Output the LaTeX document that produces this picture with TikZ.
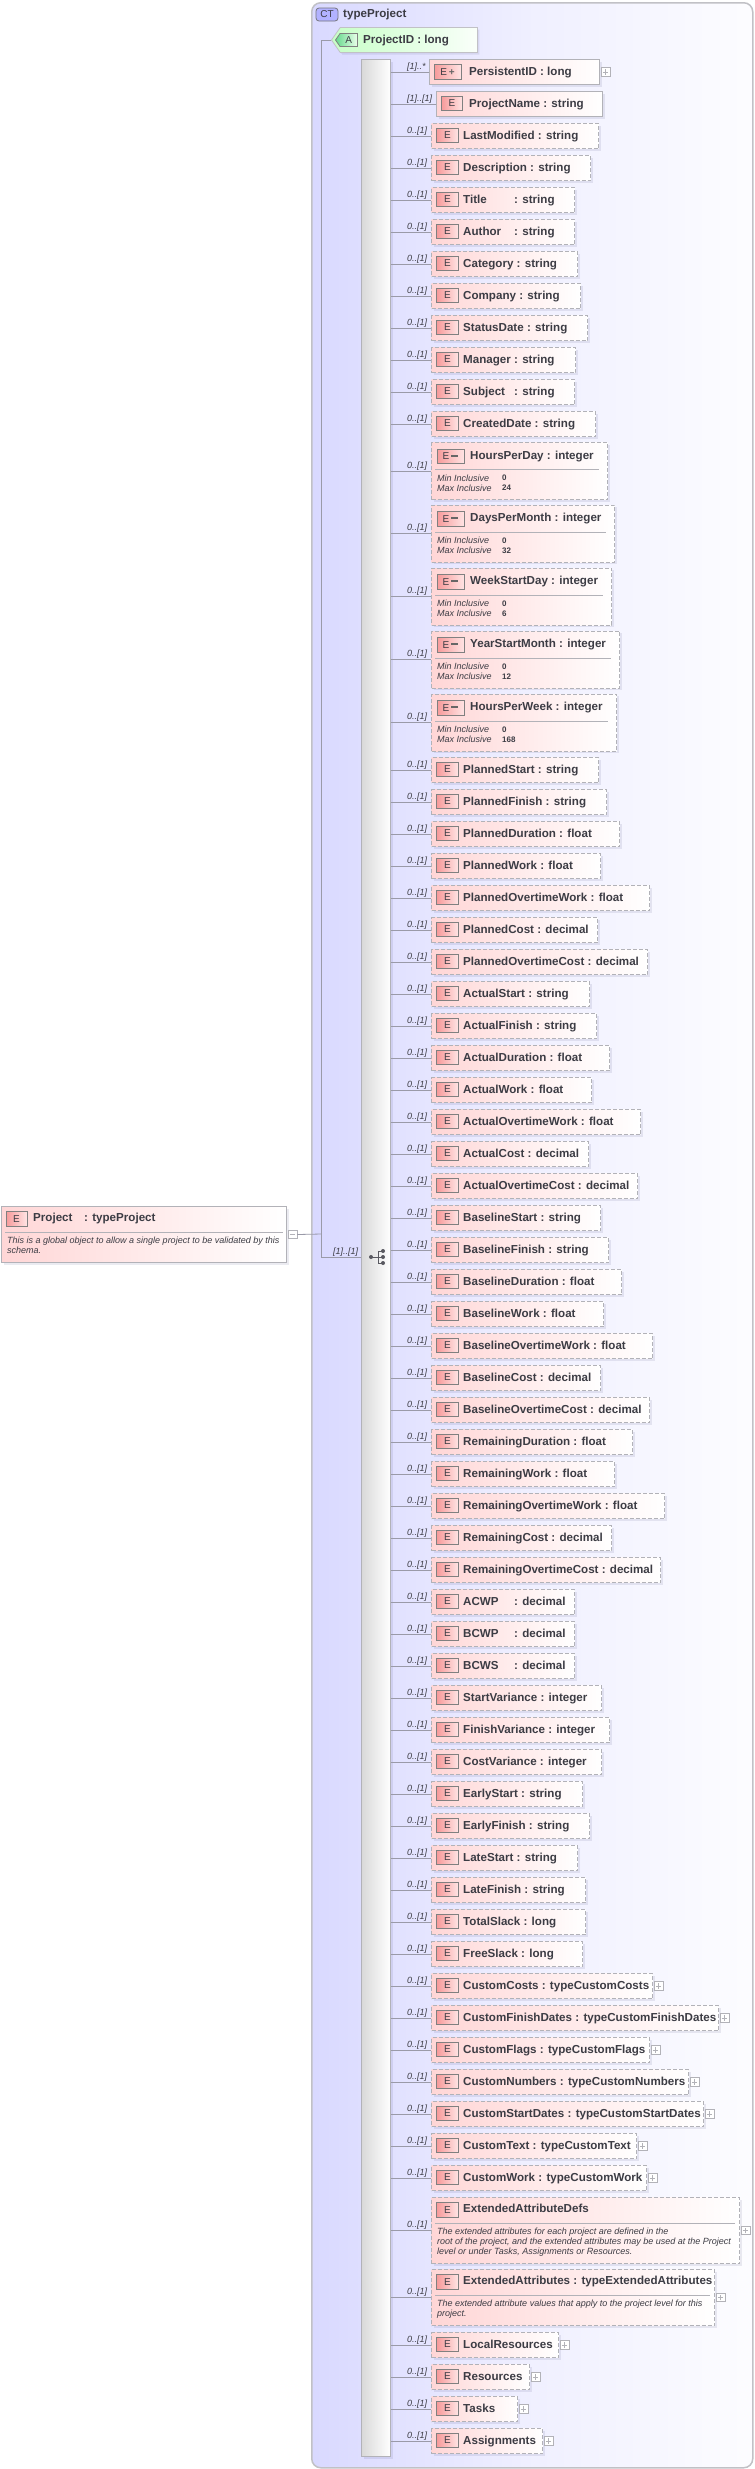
\documentclass[tikz,border=0pt]{standalone}
\usepackage{fontspec}
\setmainfont{Liberation Sans}
\usepackage{xcolor}
\usetikzlibrary{shadows,shapes.symbols}

\definecolor{linegray}{HTML}{B2B2B8}
\definecolor{wiregray}{HTML}{9A9AA8}
\definecolor{inkgray}{HTML}{3C3C44}
\definecolor{elempink}{HTML}{FFD6D6}
\definecolor{tagred}{HTML}{F79A9A}
\definecolor{tagpale}{HTML}{FFE4E4}

\tikzset{
  softshadow/.style={drop shadow={shadow xshift=2pt,shadow yshift=-2pt,fill=blue!30!black,opacity=.08}},
  elembox/.style={draw=linegray,line width=1pt,inner sep=0pt,left color=elempink,right color=white,softshadow},
  optbox/.style={elembox,dashed,dash pattern=on 4pt off 2pt},
  etag/.style={draw=gray,line width=.8pt,inner sep=0pt,minimum height=14.5pt,left color=tagred,right color=tagpale,
    text=inkgray,font=\fontsize{10}{10}\selectfont},
  ename/.style={inner sep=0pt,anchor=base west,text=inkgray,font=\bfseries\fontsize{11.6}{12}\selectfont},
  occur/.style={inner sep=0pt,anchor=base west,text=inkgray,font=\itshape\fontsize{9}{10}\selectfont},
  wire/.style={draw=wiregray,line width=.8pt},
  facet/.style={inner sep=0pt,anchor=base west,text=inkgray,font=\itshape\fontsize{9}{10}\selectfont},
  facetval/.style={inner sep=0pt,anchor=base west,text=inkgray,font=\bfseries\fontsize{8}{10}\selectfont},
  descr/.style={inner sep=0pt,anchor=north west,align=left,text=inkgray,font=\itshape\fontsize{9}{10}\selectfont},
  xbox/.style={draw=linegray,fill=white,line width=.6pt,inner sep=0pt,minimum size=8.5pt,anchor=west,
    path picture={\draw[linegray,line width=.6pt] ([xshift=1.5pt]path picture bounding box.west) -- ([xshift=-1.5pt]path picture bounding box.east);}},
  xplus/.style={xbox,path picture={\draw[linegray,line width=.6pt] ([yshift=1.5pt]path picture bounding box.south) -- ([yshift=-1.5pt]path picture bounding box.north);
    \draw[linegray,line width=.6pt] ([xshift=1.5pt]path picture bounding box.west) -- ([xshift=-1.5pt]path picture bounding box.east);}}
}
\newcommand{\nm}[1]{\makebox[51pt][l]{#1}}
\newcommand{\tagbar}{\textcolor{gray!80!black}{\rule[3pt]{7pt}{2pt}}}
\newcommand{\tagplus}{\textcolor{gray!80!black}{\textbf{+}}}

\begin{document}
\begin{tikzpicture}[x=1pt,y=-1pt]
  \useasboundingbox (0,0) rectangle (755,2469);

  % Complex type frame
  \node[draw=linegray!80,line width=1.5pt,rounded corners=9pt,inner sep=0pt,anchor=north west,
    minimum width=441pt,minimum height=2465pt,left color=blue!15!white,right color=blue!1!white,middle color=blue!6!white] (ctbox) at (311,2) {};
  \node[draw=inkgray!70,rounded corners=3pt,line width=.8pt,fill=blue!30!white,inner sep=0pt,minimum width=22pt,minimum height=13pt,
    text=inkgray,font=\fontsize{10}{10}\selectfont] (cttag) at (327,14.5) {CT};
  \node[ename] (cttext) at (343,17.5) {typeProject};

  % Attribute
  \node[signal,signal to=west,signal from=nowhere,signal pointer angle=110,draw=linegray!80,line width=.8pt,inner sep=0pt,
    minimum width=146pt,minimum height=25pt,anchor=west,left color=green!22!white,right color=green!2!white,softshadow] (ProjectID) at (331,40) {};
  \node[signal,signal to=west,signal from=nowhere,signal pointer angle=110,draw=gray,line width=.8pt,inner sep=0pt,
    minimum width=22pt,minimum height=13pt,anchor=west,left color=green!50!teal!60!white,right color=green!8!white,
    text=inkgray,font=\fontsize{10}{10}\selectfont] (atag) at (335,40) {A};
  \node[ename] (atext) at (363,43) {ProjectID : long};

  % Global element
  \node[elembox,anchor=north west,minimum width=285pt,minimum height=56pt] (Project) at (1,1206) {};
  \node[etag,minimum width=21pt] (tagProject) at (16.5,1219) {E};
  \node[ename] (txtProject) at (33,1221.5) {\nm{Project}: typeProject};
  \draw[linegray] (5,1232) -- (283,1232);
  \node[descr] (dscProject) at (7,1237) {This is a global object to allow a single project to be validated by this\\schema.};
  \node[xbox,xshift=1pt] (xProject) at (Project.east) {};

  % Sequence compositor
  \node[draw=linegray,line width=1pt,inner sep=0pt,anchor=north west,minimum width=29pt,minimum height=2397pt,
    left color=gray!30,right color=white,softshadow] (seqbar) at (361,59) {};
  \coordinate (junction) at (321.5,1234);
  \coordinate (seqin) at (361,1257);
  \draw[wire] (xProject.east) -- (junction);
  \draw[wire] (ProjectID.west) -- (ProjectID.west -| junction) -- (junction |- seqin) -- (seqin);
  \node[occur] (occseq) at (333,1254) {[1]..[1]};
  \fill[inkgray!85] (371,1257) circle (2);
  \draw[inkgray!85,line width=.8pt] (371,1257) -- (378,1257) (383,1251) -- (378,1251) -- (378,1263) -- (383,1263) (378,1257) -- (383,1257);
  \foreach \sy in {1251,1257,1263}
    \fill[inkgray!85] (383,\sy) circle (2);

  % Required children
  \node[elembox,anchor=west,minimum width=170pt,minimum height=25pt] (PersistentID) at (429,72) {};
  \draw[wire] (seqbar.east |- PersistentID.west) -- (PersistentID.west);
  \node[occur] (occPersistentID) at (407,69) {[1]..*};
  \node[etag,minimum width=27pt] (tagPersistentID) at (447.5,72) {E\hspace{2pt}\tagplus};
  \node[ename] (txtPersistentID) at (469,75) {PersistentID : long};
  \node[elembox,anchor=west,minimum width=166pt,minimum height=25pt] (ProjectName) at (436,104) {};
  \draw[wire] (seqbar.east |- ProjectName.west) -- (ProjectName.west);
  \node[occur] (occProjectName) at (407,101) {[1]..[1]};
  \node[etag,minimum width=21.5pt] (tagProjectName) at (452,103.5) {E};
  \node[ename] (txtProjectName) at (469,107) {ProjectName : string};

  % Optional simple children
  \foreach \rowname/\rowtext/\ey/\ex [evaluate=\ex as \ew using \ex-431] in {
    LastModified/LastModified : string/136/598, Description/Description : string/168/590,
    Title/\nm{Title}: string/200/574, Author/\nm{Author}: string/232/574,
    Category/Category : string/264/577, Company/Company : string/296/580,
    StatusDate/StatusDate : string/328/587, Manager/Manager : string/360/575,
    Subject/\nm{Subject}: string/392/574, CreatedDate/CreatedDate : string/424/595,
    PlannedStart/PlannedStart : string/770/598, PlannedFinish/PlannedFinish : string/802/606,
    PlannedDuration/PlannedDuration : float/834/619, PlannedWork/PlannedWork : float/866/600,
    PlannedOvertimeWork/PlannedOvertimeWork : float/898/649, PlannedCost/PlannedCost : decimal/930/597,
    PlannedOvertimeCost/PlannedOvertimeCost : decimal/962/647, ActualStart/ActualStart : string/994/589,
    ActualFinish/ActualFinish : string/1026/596, ActualDuration/ActualDuration : float/1058/609,
    ActualWork/ActualWork : float/1090/591, ActualOvertimeWork/ActualOvertimeWork : float/1122/640,
    ActualCost/ActualCost : decimal/1154/588, ActualOvertimeCost/ActualOvertimeCost : decimal/1186/637,
    BaselineStart/BaselineStart : string/1218/600, BaselineFinish/BaselineFinish : string/1250/608,
    BaselineDuration/BaselineDuration : float/1282/621, BaselineWork/BaselineWork : float/1314/603,
    BaselineOvertimeWork/BaselineOvertimeWork : float/1346/652, BaselineCost/BaselineCost : decimal/1378/600,
    BaselineOvertimeCost/BaselineOvertimeCost : decimal/1410/649, RemainingDuration/RemainingDuration : float/1442/632,
    RemainingWork/RemainingWork : float/1474/614, RemainingOvertimeWork/RemainingOvertimeWork : float/1506/664,
    RemainingCost/RemainingCost : decimal/1538/611, RemainingOvertimeCost/RemainingOvertimeCost : decimal/1570/660,
    ACWP/\nm{ACWP}: decimal/1602/574, BCWP/\nm{BCWP}: decimal/1634/574, BCWS/\nm{BCWS}: decimal/1666/574,
    StartVariance/StartVariance : integer/1698/601, FinishVariance/FinishVariance : integer/1730/609,
    CostVariance/CostVariance : integer/1762/601, EarlyStart/EarlyStart : string/1794/582,
    EarlyFinish/EarlyFinish : string/1826/589, LateStart/LateStart : string/1858/577,
    LateFinish/LateFinish : string/1890/585, TotalSlack/TotalSlack : long/1922/585,
    FreeSlack/FreeSlack : long/1954/582, CustomCosts/CustomCosts : typeCustomCosts/1986/652,
    CustomFinishDates/CustomFinishDates : typeCustomFinishDates/2018/718, CustomFlags/CustomFlags : typeCustomFlags/2050/649,
    CustomNumbers/CustomNumbers : typeCustomNumbers/2082/688, CustomStartDates/CustomStartDates : typeCustomStartDates/2114/703,
    CustomText/CustomText : typeCustomText/2146/636, CustomWork/CustomWork : typeCustomWork/2178/646,
    LocalResources/LocalResources/2345/558, Resources/Resources/2377/529, Tasks/Tasks/2409/517, Assignments/Assignments/2441/542}
  {
    \node[optbox,anchor=west,minimum width=\ew pt,minimum height=25pt] (\rowname) at (431,\ey) {};
    \draw[wire] (seqbar.east |- \rowname.west) -- (\rowname.west);
    \node[occur] (occ\rowname) at (407,\ey-3) {0..[1]};
    \node[etag,minimum width=21.5pt] (tag\rowname) at (447.5,\ey-.5) {E};
    \node[ename] (txt\rowname) at (463,\ey+3) {\rowtext};
  }

  % Children with a value range
  \foreach \rowname/\ey/\ex/\ehigh [evaluate=\ex as \ew using \ex-431, evaluate=\ey as \etop using \ey-28.5] in {
    HoursPerDay/471/607/24, DaysPerMonth/533.5/614/32, WeekStartDay/596.5/611/6,
    YearStartMonth/659.5/619/12, HoursPerWeek/722.5/616/168}
  {
    \node[optbox,anchor=west,minimum width=\ew pt,minimum height=57pt] (\rowname) at (431,\ey) {};
    \draw[wire] (seqbar.east |- \rowname.west) -- (\rowname.west);
    \node[occur] (occ\rowname) at (407,\ey-3) {0..[1]};
    \node[etag,minimum width=27pt] (tag\rowname) at (450.5,\etop+14) {E\hspace{2pt}\tagbar};
    \node[ename] (txt\rowname) at (470,\etop+16.5) {\rowname{} : integer};
    \draw[linegray] (435,\etop+27) -- (\ex-8,\etop+27);
    \node[facet] (minl\rowname) at (437,\etop+38.5) {Min Inclusive};
    \node[facet] (maxl\rowname) at (437,\etop+48.5) {Max Inclusive};
    \node[facetval] (minv\rowname) at (502,\etop+38) {0};
    \node[facetval] (maxv\rowname) at (502,\etop+48) {\ehigh};
  }

  % Children with documentation
  \node[optbox,anchor=north west,minimum width=308pt,minimum height=66pt] (ExtendedAttributeDefs) at (431,2197) {};
  \node[optbox,anchor=north west,minimum width=283pt,minimum height=56pt] (ExtendedAttributes) at (431,2269) {};
  \foreach \rowname/\rowtext/\ex/\ey/\wy in {
    ExtendedAttributeDefs/ExtendedAttributeDefs/735/2197/2230, ExtendedAttributes/ExtendedAttributes : typeExtendedAttributes/710/2269/2297}
  {
    \draw[wire] (seqbar.east |- \rowname.west) -- (\rowname.west);
    \node[occur] (occ\rowname) at (407,\wy-3) {0..[1]};
    \node[etag,minimum width=21.5pt] (tag\rowname) at (447.5,\ey+13) {E};
    \node[ename] (txt\rowname) at (463,\ey+15.7) {\rowtext};
    \draw[linegray] (435,\ey+26) -- (\ex,\ey+26);
  }
  \node[descr] (dscExtendedAttributeDefs) at (437,2228) {The extended attributes for each project are defined in the\\root of the project, and the extended attributes may be used at the Project\\level or under Tasks, Assignments or Resources.};
  \node[descr] (dscExtendedAttributes) at (437,2300) {The extended attribute values that apply to the project level for this\\project.};

  % Collapsed children
  \foreach \rowname in {PersistentID,CustomCosts,CustomFinishDates,CustomFlags,CustomNumbers,CustomStartDates,
    CustomText,CustomWork,ExtendedAttributeDefs,ExtendedAttributes,LocalResources,Resources,Tasks,Assignments}
    \node[xplus,xshift=1pt] (x\rowname) at (\rowname.east) {};
\end{tikzpicture}
\end{document}
